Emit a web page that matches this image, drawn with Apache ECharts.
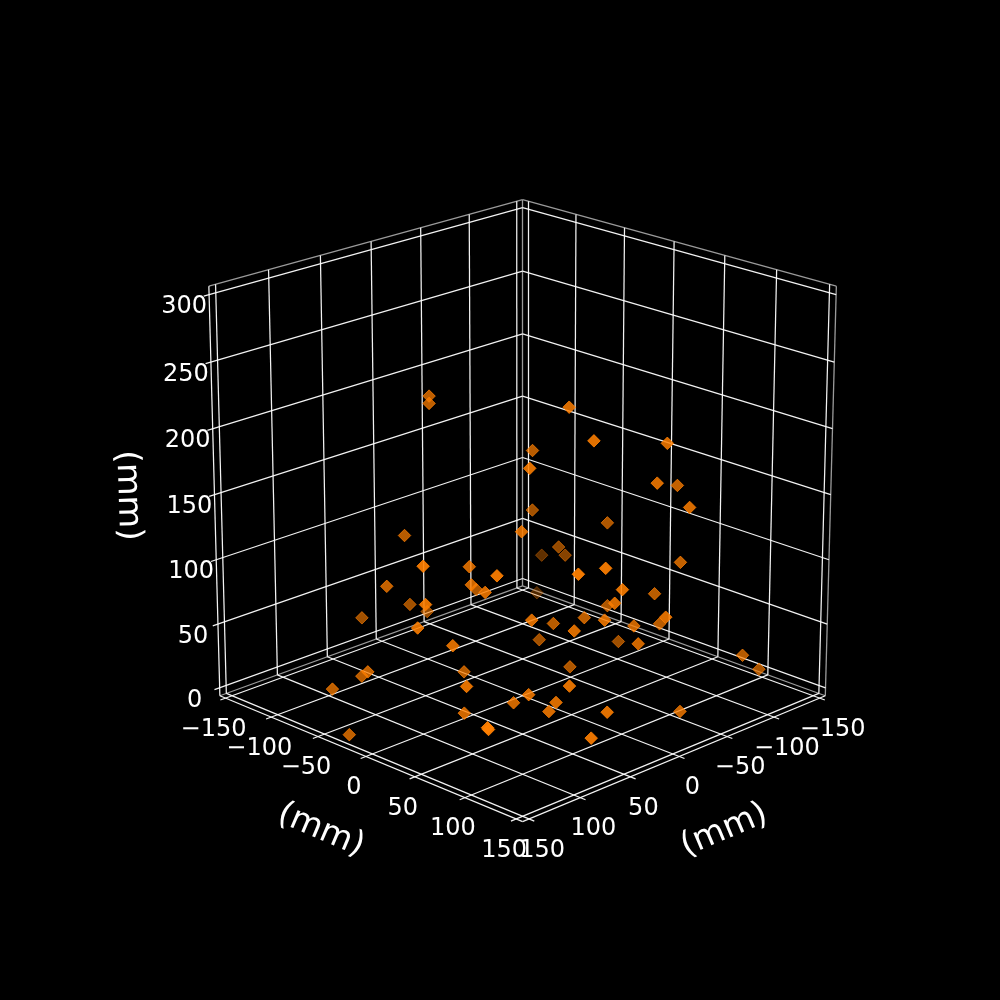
<!DOCTYPE html>
<html><head><meta charset="utf-8">
<script src="https://cdn.jsdelivr.net/npm/echarts@6/dist/echarts.min.js"></script>
<style>html,body{margin:0;background:#000}#c{width:1000px;height:1000px}</style>
</head><body><div id="c"></div>
<script>
// values in mm
const xVals=[48,49,14,20,-29,0,56,-17,-54,-29,-15,-38,58,79,-63,-35,-49,-42,137,77,103,76,49,79,40,86,-59,109,-37,31,135,64,44,91,-24,24,8,32,19,68,7,-34,0,49,138,4,-41,6,111,-74,-92,6,73,133,125,148,124,73,82,78,70,75,104,59,-9,145,145,81,148];
const yVals=[-46,-45,60,90,114,10,63,116,101,136,-5,48,57,-40,-43,2,-5,116,40,24,78,130,130,28,-7,49,-44,-27,96,129,40,-51,-54,-73,62,115,70,113,50,77,148,104,111,100,35,21,57,121,42,148,148,54,14,-22,-37,-43,69,119,88,69,103,101,46,142,148,111,112,148,-26];
const zVals=[225,220,234,218,210,186,200,184,169,168,133,131,152,129,75,101,89,118,143,122,137,145,142,110,86,112,46,102,90,121,114,69,57,60,75,105,77,94,70,94,99,70,80,87,96,45,41,71,77,47,31,34,38,45,35,30,58,58,45,32,40,34,25,41,23,46,45,30,0];
const xTicks=[-150,-100,-50,0,50,100,150];
const yTicks=[-150,-100,-50,0,50,100,150];
const zTicks=[0,50,100,150,200,250,300];
const axisTitle='(mm)';
const LIM=156.25,ZLO=-6.25,ZHI=306.25,EXT=5;

const S=4162,CX=522.6,CY=494.6,D=10,A=.5235/156.25;
const el=20*Math.PI/180,az=45*Math.PI/180;
const u=[-Math.sin(az),Math.cos(az),0],v=[-Math.sin(el)*Math.cos(az),-Math.sin(el)*Math.sin(az),Math.cos(el)],w=[Math.cos(el)*Math.cos(az),Math.cos(el)*Math.sin(az),Math.sin(el)];
function proj(x,y,z){const d=[x*A,y*A,(z-150)*A];const dot=a=>a[0]*d[0]+a[1]*d[1]+a[2]*d[2];const W=dot(w),k=S/(D-W);return [CX+k*dot(u),CY-k*dot(v),W];}
const xy=(x,y,z)=>proj(x,y,z).slice(0,2);
const fmt=n=>String(n).replace('-','\u2212');

const GRID={color:'#fff',width:1.25,opacity:.95},EDGE={color:'#9a9a9a',width:1.3,opacity:1},AXIS={color:'#fff',width:1.25,opacity:.95};
const segs=[];
const seg=(a,b,st)=>segs.push({coords:[xy(...a),xy(...b)],lineStyle:st});
// pane edges
[[[-LIM,-LIM,ZLO],[-LIM,-LIM,ZHI]],[[-LIM,-LIM,ZHI],[LIM,-LIM,ZHI]],[[-LIM,-LIM,ZHI],[-LIM,LIM,ZHI]],[[LIM,-LIM,ZLO],[-LIM,-LIM,ZLO]],[[-LIM,LIM,ZLO],[-LIM,-LIM,ZLO]],[[-LIM,LIM,ZLO],[-LIM,LIM,ZHI]]].forEach(s=>seg(s[0],s[1],EDGE));
// axis lines
seg([LIM,-LIM,ZLO],[LIM,LIM,ZLO],AXIS);seg([-LIM,LIM,ZLO],[LIM,LIM,ZLO],AXIS);seg([LIM,-LIM,ZLO],[LIM,-LIM,ZHI],AXIS);
// gridlines
xTicks.forEach(t=>{seg([t,-LIM,ZHI],[t,-LIM,ZLO],GRID);seg([t,-LIM,ZLO],[t,LIM+EXT,ZLO],GRID);});
yTicks.forEach(t=>{seg([-LIM,t,ZHI],[-LIM,t,ZLO],GRID);seg([-LIM,t,ZLO],[LIM+EXT,t,ZLO],GRID);});
zTicks.forEach(t=>{seg([-LIM,LIM,t],[-LIM,-LIM,t],GRID);seg([-LIM,-LIM,t],[LIM+EXT,-LIM,t],GRID);});

// markers with depth shading, far ones first
const pts=xVals.map((x,i)=>proj(x,yVals[i],zVals[i]));
const ws=pts.map(p=>p[2]),wMin=Math.min(...ws),wMax=Math.max(...ws);
const marks=pts.slice().sort((a,b)=>a[2]-b[2]).map(p=>{const t=(p[2]-wMin)/(wMax-wMin);const al=(.32+.68*Math.pow(t,.65))*.95;const c=`rgba(255,127,0,${al.toFixed(3)})`;return {value:[p[0],p[1]],itemStyle:{color:c,borderColor:c,borderWidth:1,opacity:1}};});

function labels(list,font){return {type:'scatter',symbolSize:1,silent:true,z:5,itemStyle:{color:'transparent',opacity:1},
 data:list.map(l=>({value:l.p,itemStyle:{opacity:1},label:{show:true,opacity:1,position:'inside',formatter:l.t,rotate:l.r||0,color:'#fff',fontFamily:'DejaVu Sans',fontSize:font,align:'center',verticalAlign:'middle'}}))};}
const add=(p,o)=>[p[0]+o[0],p[1]+o[1]];
const tickLabels=[
 ...yTicks.map(t=>({t:fmt(t),p:add(xy(LIM,t,ZLO),[-12,31.5])})),
 ...xTicks.map(t=>({t:fmt(t),p:add(xy(t,LIM,ZLO),[13,31.5])})),
 ...zTicks.map(t=>({t:fmt(t),p:add(xy(LIM,-LIM,t),[-25,12.5])}))];
const titles=[
 {t:axisTitle,p:add(xy(LIM,0,ZLO),[-45,74]),r:-23},
 {t:axisTitle,p:add(xy(0,LIM,ZLO),[45,74]),r:23},
 {t:axisTitle,p:add(xy(LIM,-LIM,150),[-87,1]),r:-88}];

const ch=echarts.init(document.getElementById('c'));
ch.setOption({backgroundColor:'#000',animation:false,
 grid:{left:0,right:0,top:0,bottom:0},
 xAxis:{type:'value',min:0,max:1000,show:false},
 yAxis:{type:'value',min:0,max:1000,inverse:true,show:false},
 series:[
  {type:'lines',coordinateSystem:'cartesian2d',silent:true,z:2,data:segs},
  {type:'scatter',symbol:'diamond',symbolSize:12.5,z:3,silent:true,data:marks},
  labels(tickLabels,24),labels(titles,33.3)
 ]});
</script></body></html>
